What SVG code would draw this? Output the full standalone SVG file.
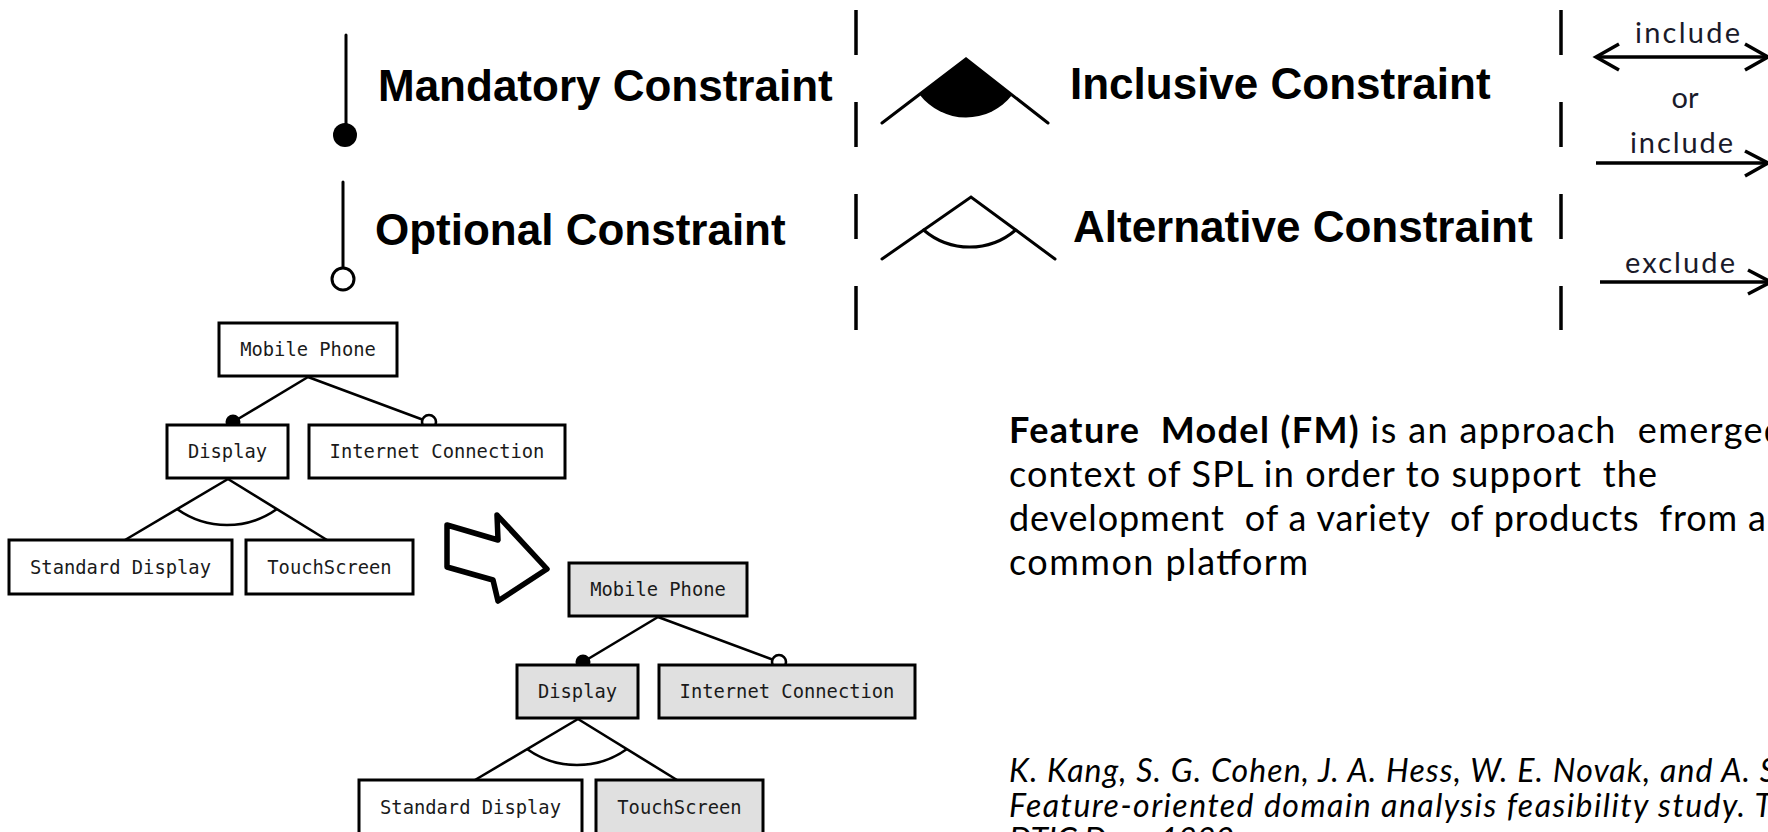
<svg xmlns="http://www.w3.org/2000/svg" width="1768" height="832" viewBox="0 0 1768 832">
  <style>
    .legend { font-family: "Liberation Sans", Arial, sans-serif; font-weight: bold; font-size: 44px; fill: #000; }
    .rel { font-family: Lato, "Open Sans", sans-serif; font-size: 29px; fill: #1a1a2a; }
    .box { fill: #fff; stroke: #000; stroke-width: 3; }
    .box.sel { fill: #e0e0e0; }
    .lbl { font-family: "DejaVu Sans Mono", monospace; font-size: 18.8px; fill: #1a1a1a; text-anchor: middle; }
    .edge { stroke: #000; stroke-width: 2.6; fill: none; }
    .sym { stroke: #000; stroke-width: 3; fill: none; stroke-linecap: round; }
    .dash { stroke: #000; stroke-width: 3.5; stroke-dasharray: 45 47; }
    .rarrow { stroke: #000; stroke-width: 3.5; fill: none; }
    .body { font-family: Lato, "Open Sans", sans-serif; font-size: 36px; fill: #000; white-space: pre; }
    .cite { font-family: Lato, "Open Sans", sans-serif; font-style: italic; font-size: 32px; fill: #000; }
  </style>

  <!-- legend: mandatory / optional -->
  <g id="legend-mandatory">
    <line class="sym" x1="346" y1="35" x2="346" y2="130"/>
    <circle cx="345" cy="135" r="12" fill="#000"/>
    <text class="legend" x="378" y="101">Mandatory Constraint</text>
  </g>
  <g id="legend-optional">
    <line class="sym" x1="343" y1="182" x2="343" y2="268"/>
    <circle cx="343" cy="279" r="11" fill="#fff" stroke="#000" stroke-width="3"/>
    <text class="legend" x="375" y="245">Optional Constraint</text>
  </g>

  <!-- separators -->
  <line class="dash" x1="856" y1="10" x2="856" y2="330"/>
  <line class="dash" x1="1561" y1="10" x2="1561" y2="330"/>

  <!-- legend: inclusive / alternative groups -->
  <g id="legend-inclusive">
    <path d="M966,59 L919.5,94.5 A58.5,58.5 0 0,0 1012.1,95 Z" fill="#000"/>
    <polyline class="sym" points="882,123 966,59 1048,123"/>
    <text class="legend" x="1070" y="99">Inclusive Constraint</text>
  </g>
  <g id="legend-alternative">
    <polyline class="sym" points="882,259 971,197 1055,259"/>
    <path class="sym" d="M923.6,230 A70.7,70.7 0 0,0 1015.7,230"/>
    <text class="legend" x="1073" y="242">Alternative Constraint</text>
  </g>

  <!-- legend: cross-tree relations -->
  <g id="legend-include-both">
    <text class="rel" x="1635" y="43" textLength="105">include</text>
    <line class="rarrow" x1="1596" y1="57" x2="1768" y2="57"/>
    <polyline class="rarrow" points="1619,44 1596,57 1619,70"/>
    <polyline class="rarrow" points="1745,44 1768,57 1745,70"/>
  </g>
  <text id="legend-or" class="rel" x="1685" y="108" text-anchor="middle">or</text>
  <g id="legend-include">
    <text class="rel" x="1630" y="153" textLength="103">include</text>
    <line class="rarrow" x1="1596" y1="163" x2="1768" y2="163"/>
    <polyline class="rarrow" points="1745,151 1768,163 1745,176"/>
  </g>
  <g id="legend-exclude">
    <text class="rel" x="1625" y="273" textLength="110">exclude</text>
    <line class="rarrow" x1="1600" y1="282" x2="1768" y2="282"/>
    <polyline class="rarrow" points="1748,270 1771,282 1748,294"/>
  </g>

  <!-- connectors of both feature trees -->
  <g id="connectors">
    <line class="edge" x1="308" y1="377" x2="233" y2="422"/>
    <line class="edge" x1="308" y1="377" x2="429" y2="422"/>
    <circle cx="233" cy="422" r="7.5" fill="#000"/>
    <circle cx="429" cy="422" r="7" fill="#fff" stroke="#000" stroke-width="2.6"/>
    <line class="edge" x1="228" y1="479" x2="125" y2="540"/>
    <line class="edge" x1="228" y1="479" x2="327" y2="540"/>
    <path class="edge" d="M177,509 A86,86 0 0,0 277,509"/>

    <line class="edge" x1="658" y1="617" x2="583" y2="662"/>
    <line class="edge" x1="658" y1="617" x2="779" y2="662"/>
    <circle cx="583" cy="662" r="7.5" fill="#000"/>
    <circle cx="779" cy="662" r="7" fill="#fff" stroke="#000" stroke-width="2.6"/>
    <line class="edge" x1="578" y1="719" x2="475" y2="780"/>
    <line class="edge" x1="578" y1="719" x2="677" y2="780"/>
    <path class="edge" d="M527,749 A86,86 0 0,0 627,749"/>
  </g>

  <!-- feature model -->
  <g id="fm-mobile-phone">
    <rect class="box" x="219" y="323" width="178" height="53"/>
    <text class="lbl" x="308" y="356">Mobile Phone</text>
  </g>
  <g id="fm-display">
    <rect class="box" x="167" y="425" width="121" height="53"/>
    <text class="lbl" x="227.5" y="458">Display</text>
  </g>
  <g id="fm-internet">
    <rect class="box" x="309" y="425" width="256" height="53"/>
    <text class="lbl" x="437" y="458">Internet Connection</text>
  </g>
  <g id="fm-standard-display">
    <rect class="box" x="9" y="540" width="223" height="54"/>
    <text class="lbl" x="120.5" y="574">Standard Display</text>
  </g>
  <g id="fm-touchscreen">
    <rect class="box" x="246" y="540" width="167" height="54"/>
    <text class="lbl" x="329.5" y="574">TouchScreen</text>
  </g>

  <!-- derivation arrow -->
  <g id="derive-arrow">
    <polygon points="447,525 498,540 497,515 547,569 498,601 493,580 447,567" fill="#fff" stroke="#000" stroke-width="5.5" stroke-linejoin="round"/>
  </g>

  <!-- configured product -->
  <g id="cfg-mobile-phone">
    <rect class="box sel" x="569" y="563" width="178" height="53"/>
    <text class="lbl" x="658" y="596">Mobile Phone</text>
  </g>
  <g id="cfg-display">
    <rect class="box sel" x="517" y="665" width="121" height="53"/>
    <text class="lbl" x="577.5" y="698">Display</text>
  </g>
  <g id="cfg-internet">
    <rect class="box sel" x="659" y="665" width="256" height="53"/>
    <text class="lbl" x="787" y="698">Internet Connection</text>
  </g>
  <g id="cfg-standard-display">
    <rect class="box" x="359" y="780" width="223" height="54"/>
    <text class="lbl" x="470.5" y="814">Standard Display</text>
  </g>
  <g id="cfg-touchscreen">
    <rect class="box sel" x="596" y="780" width="167" height="54"/>
    <text class="lbl" x="679.5" y="814">TouchScreen</text>
  </g>

  <!-- description -->
  <g id="description">
    <text class="body" x="1009" y="443" textLength="775"><tspan font-weight="bold">Feature  Model (FM)</tspan> is an approach  emerged</text>
    <text class="body" x="1009" y="487" textLength="648">context of SPL in order to support  the</text>
    <text class="body" x="1009" y="531" textLength="757">development  of a variety  of products  from a</text>
    <text class="body" x="1009" y="575" textLength="299">common platform</text>
  </g>
  <g id="reference">
    <text class="cite" x="1009" y="782" textLength="767">K. Kang, S. G. Cohen, J. A. Hess, W. E. Novak, and A. S</text>
    <text class="cite" x="1009" y="817" textLength="763">Feature-oriented domain analysis feasibility study. T</text>
    <text class="cite" x="1009" y="851">DTIC Doc., 1990</text>
  </g>
</svg>
